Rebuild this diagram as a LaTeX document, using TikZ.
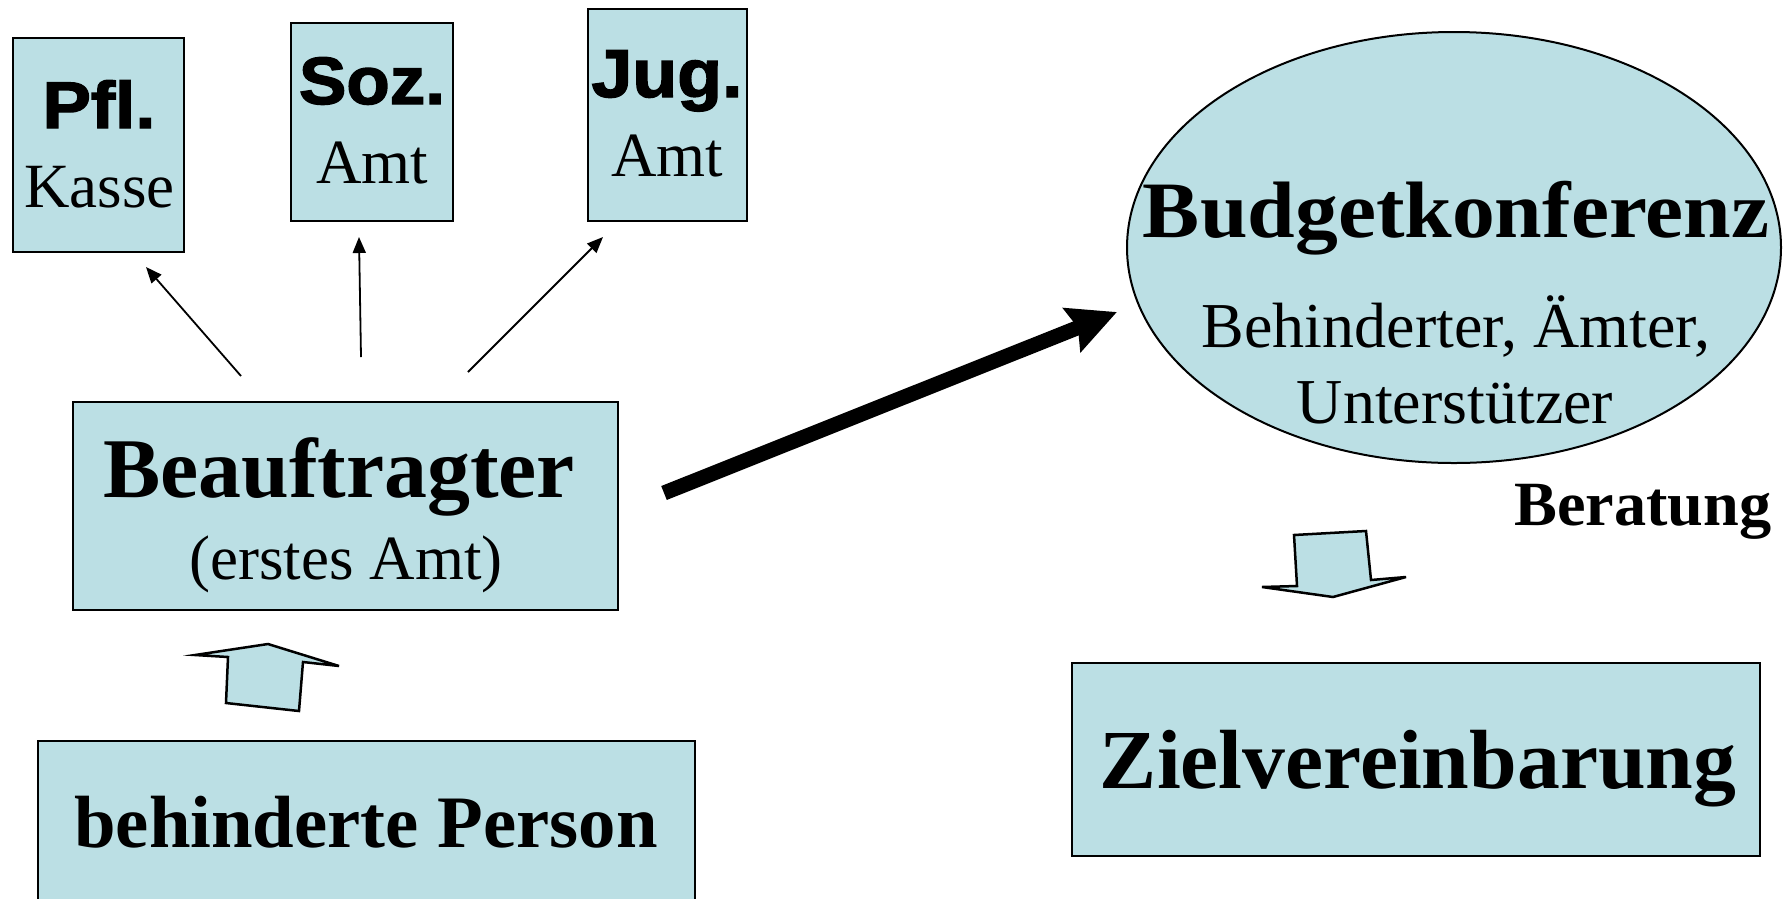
\documentclass[tikz,border=0pt]{standalone}
\usepackage{fontspec}
\setmainfont{Liberation Serif}
\newfontfamily\heavysans{Liberation Sans Bold}[FakeBold=2]
\usetikzlibrary{arrows.meta,shapes.geometric}
\definecolor{paleblue}{RGB}{187,223,228}

\newcommand{\fs}[1]{\fontsize{#1}{#1}\selectfont}
\newcommand{\wide}[2]{\scalebox{#1}[1]{#2}}

\begin{document}
\begin{tikzpicture}[x=1pt,y=-1pt,
  box/.style={rectangle, draw=black, line width=2.5pt, fill=paleblue, inner sep=0pt},
  oval/.style={ellipse, draw=black, line width=2pt, fill=paleblue, inner sep=0pt},
  txt/.style={anchor=base, inner sep=0pt, outer sep=0pt},
  thinarrow/.style={line width=1.8pt, -{Triangle[length=16pt,width=13pt]}},
  bigarrow/.style={line width=15pt, -{Stealth[length=48pt,width=46pt,inset=6pt]}},
  blockarrow/.style={draw=black, line width=2.5pt, fill=paleblue, line join=miter}]
\useasboundingbox (0,0) rectangle (1787,898);

% offices at the top
\node[box, minimum width=171pt, minimum height=214pt] (pfl) at (98.5,145) {};
\node[box, minimum width=162pt, minimum height=198pt] (soz) at (372,122) {};
\node[box, minimum width=159pt, minimum height=212pt] (jug) at (667.5,115) {};
\node[txt] (pflA) at (99,128) {\heavysans\fs{66}\wide{1.1}{Pfl.}};
\node[txt] (pflB) at (99.5,207) {\fs{63}Kasse};
\node[txt] (sozA) at (372,104) {\heavysans\fs{67}\wide{1.06}{Soz.}};
\node[txt] (sozB) at (372,183) {\fs{63}Amt};
\node[txt] (jugA) at (667,97) {\heavysans\fs{68}\wide{1.08}{Jug.}};
\node[txt] (jugB) at (667,176) {\fs{63}Amt};

% commissioning office and the person
\node[box, minimum width=545pt, minimum height=208pt] (beauf) at (345.5,506) {};
\node[txt] (beaufA) at (339,497) {\bfseries\fs{85}\wide{1.01}{Beauftragter}};
\node[txt] (beaufB) at (346,579) {\fs{63}(erstes Amt)};

\node[box, minimum width=657pt, minimum height=179pt] (person) at (366.5,830.5) {};
\node[txt] (personA) at (366,847) {\bfseries\fs{74}\wide{1.01}{behinderte Person}};

% budget conference
\node[oval, minimum width=654pt, minimum height=431pt] (budget) at (1454,247.5) {};
\node[txt] (budgetA) at (1456,237) {\bfseries\fs{80}\wide{1.07}{Budgetkonferenz}};
\node[txt] (budgetB) at (1456,347) {\fs{64}Behinderter, Ämter,};
\node[txt] (budgetC) at (1455,423) {\fs{64}Unterstützer};
\node[txt] (berat) at (1643,525) {\bfseries\fs{63}\wide{1.02}{Beratung}};

% target agreement
\node[box, minimum width=688pt, minimum height=193pt] (ziel) at (1416,759.5) {};
\node[txt] (zielA) at (1418,788) {\bfseries\fs{84}\wide{1.02}{Zielvereinbarung}};

% thin arrows to the offices
\coordinate (pflS) at (241,376);
\coordinate (pflE) at (146,267);
\coordinate (sozS) at (361,357);
\coordinate (sozE) at (359,237);
\coordinate (jugS) at (468,372);
\coordinate (jugE) at (603,237);
\draw[thinarrow] (pflS) -- (pflE);
\draw[thinarrow] (sozS) -- (sozE);
\draw[thinarrow] (jugS) -- (jugE);

% heavy arrow to the conference
\coordinate (bigS) at (664,493);
\coordinate (bigE) at (1117,312);
\draw[bigarrow] (bigS) -- (bigE);

% block arrows
\draw[blockarrow] (268,644) -- (339,666) -- (303,662) -- (299,711) -- (226,703)
  -- (228,657) -- (195,655) -- cycle;
\draw[blockarrow] (1294,535) -- (1366,531) -- (1371,580) -- (1406,577) -- (1333,597)
  -- (1262,587) -- (1297,586) -- cycle;
\end{tikzpicture}
\end{document}
